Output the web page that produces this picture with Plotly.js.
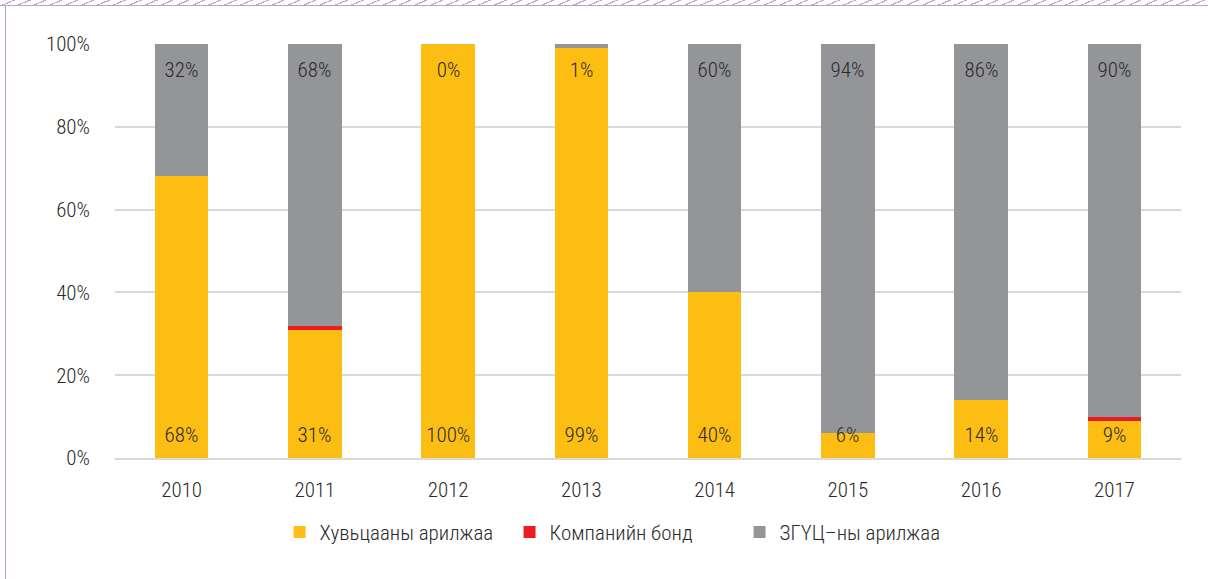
<!DOCTYPE html>
<html>
<head>
<meta charset="utf-8">
<script src="https://cdn.plot.ly/plotly-3.0.1.min.js"></script>
<style>
  html, body { margin:0; padding:0; background:#fff; }
  #wrap { position:relative; width:1208px; height:579px; overflow:hidden; }
  #chart { position:absolute; left:0; top:0; width:1208px; height:579px; }
  #chart svg text { font-stretch: condensed !important; }
  #hatch { position:absolute; left:0; top:0; width:1208px; height:5px;
    background: repeating-linear-gradient(157deg, #fff 0px, #fff 5px, #c9a3d8 5px, #c9a3d8 6.2px);
    border-bottom:1px solid #c39bd3; z-index:2; }
  #lline { position:absolute; left:5px; top:5px; width:1px; height:574px; background:#c39bd3; z-index:2; }
</style>
</head>
<body>
<div id="wrap">
  <div id="chart"></div>
  <div id="hatch"></div>
  <div id="lline"></div>
</div>
<script>
const years = ['2010','2011','2012','2013','2014','2015','2016','2017'];
const stocks = [68, 31, 100, 99, 40, 6, 14, 9];
const bonds  = [0, 1, 0, 0, 0, 0, 0, 1];
const govt   = [32, 68, 0, 1, 60, 94, 86, 90];
const names = ['Хувьцааны арилжаа', 'Компанийн бонд', 'ЗГҮЦ–ны арилжаа'];
const colors = ['#FDBE14', '#ED1C24', '#939598'];

const fam = "Roboto, 'Open Sans', sans-serif";
const F = { family: fam, size: 21, color: '#2b2b2b', weight: 300 };

const traces = [stocks, bonds, govt].map((v, i) => ({
  type: 'bar', x: years, y: v, name: names[i],
  marker: { color: colors[i] }, hoverinfo: 'none'
}));

const annotations = [];
years.forEach((yr, i) => {
  annotations.push({ x: yr, y: 0, yref: 'y', text: stocks[i] + '%', showarrow: false,
    yanchor: 'middle', yshift: 23, font: F });
  annotations.push({ x: yr, y: 100, yref: 'y', text: govt[i] + '%', showarrow: false,
    yanchor: 'middle', yshift: -26, font: F });
});

const layout = {
  width: 1208, height: 579,
  margin: { l: 115, r: 27, t: 44, b: 121 },
  barmode: 'stack', bargap: 0.6,
  paper_bgcolor: '#fff', plot_bgcolor: '#fff',
  font: F,
  xaxis: { showgrid: false, showline: true, linecolor: '#d9d9d9', linewidth: 2,
    ticks: '', tickfont: F, ticklabelstandoff: 12 },
  yaxis: { range: [0, 100], tickvals: [0, 20, 40, 60, 80, 100], ticktext: ['0%','20%','40%','60%','80%','100%'],
    showgrid: true, gridcolor: '#d9d9d9', gridwidth: 2, zeroline: false, showline: false,
    tickfont: F, ticklabelstandoff: 24 },
  legend: { orientation: 'h', x: 0.478, xanchor: 'center', y: -0.13, yanchor: 'top',
    font: F, itemwidth: 30, traceorder: 'normal', entrywidth: 185 },
  annotations: annotations,
  showlegend: true
};

Plotly.newPlot('chart', traces, layout, { displayModeBar: false, staticPlot: true });
</script>
</body>
</html>
